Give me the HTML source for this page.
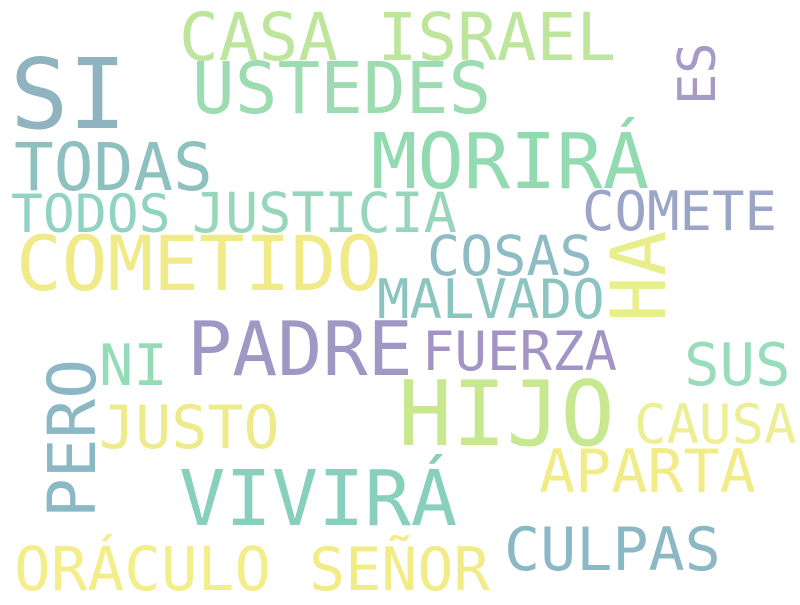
<!DOCTYPE html>
<html><head><meta charset="utf-8"><style>
html,body{margin:0;padding:0;background:#fff;}
svg text{font-family:"DejaVu Sans Mono","Liberation Mono",monospace;}
</style></head><body>
<svg width="800" height="600" viewBox="0 0 800 600">
<rect width="800" height="600" fill="#fff"/>
<text x="10" y="128" font-size="97" fill="#8fb3bf">SI</text>
<text x="179" y="60" font-size="66" fill="#bde69c">CASA ISRAEL</text>
<text x="192" y="113" font-size="71" fill="#9cdcb0">USTEDES</text>
<text transform="translate(715,105) rotate(-90)" font-size="52" fill="#a59bc4">ES</text>
<text x="14" y="190" font-size="66" fill="#8ec0c0">TODAS</text>
<text x="371" y="188" font-size="77" fill="#92dab0">MORIRÁ</text>
<text x="11" y="232" font-size="53" fill="#8fd3c0">TODOS</text>
<text x="192" y="232" font-size="55" fill="#98d6bc">JUSTICIA</text>
<text x="582" y="230" font-size="54" fill="#9aa5c8">COMETE</text>
<text x="16" y="290" font-size="76" fill="#f0ea88">COMETIDO</text>
<text x="427" y="275" font-size="55" fill="#8fbcc4">COSAS</text>
<text transform="translate(665,322) rotate(-90)" font-size="76" fill="#e8ee8a">HA</text>
<text x="377" y="318" font-size="54" fill="#8cc4c0">MALVADO</text>
<text x="187" y="375" font-size="75" fill="#9f97c4">PADRE</text>
<text x="422" y="370" font-size="54" fill="#a294c4">FUERZA</text>
<text x="99" y="385" font-size="57" fill="#94dcb8">NI</text>
<text x="684" y="385" font-size="59" fill="#98dcbc">SUS</text>
<text transform="translate(95,518) rotate(-90)" font-size="66" fill="#8ab8c4">PERO</text>
<text x="398" y="445" font-size="90" fill="#c8e890">HIJO</text>
<text x="99" y="448" font-size="60" fill="#eeeb8c">JUSTO</text>
<text x="634" y="443" font-size="54" fill="#eeee94">CAUSA</text>
<text x="539" y="492" font-size="60" fill="#f2ec88">APARTA</text>
<text x="179" y="525" font-size="77" fill="#88d0bc">VIVIRÁ</text>
<text x="504" y="570" font-size="60" fill="#8ab8c4">CULPAS</text>
<text x="14" y="590" font-size="61" fill="#f4ee8a">ORÁCULO</text>
<text x="309" y="590" font-size="60" fill="#f2ec88">SEÑOR</text>
</svg>
</body></html>
